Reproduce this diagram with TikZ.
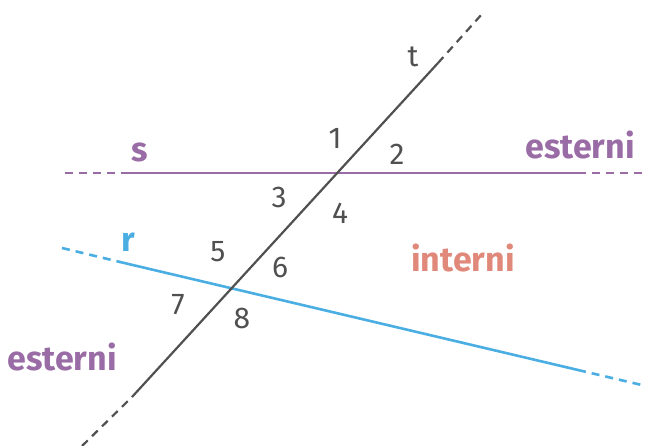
\documentclass[tikz,border=0pt]{standalone}
\usepackage{fontspec}
\setmainfont{Fira Sans}
\definecolor{spurple}{HTML}{9A6CA6}
\definecolor{rblue}{HTML}{4AAEE2}
\definecolor{tgrey}{HTML}{505050}
\definecolor{salmon}{HTML}{E0887A}
\begin{document}
\begin{tikzpicture}[x=1pt,y=-1pt,
  dsh/.style={dash pattern=on 8pt off 6pt},
  num/.style={text=tgrey,font=\fontsize{30}{30}\selectfont,inner sep=0pt},
  lab/.style={font=\bfseries\fontsize{34}{34}\selectfont,inner sep=0pt}]
\useasboundingbox (0,0) rectangle (646,446);
% line s
\coordinate (s0) at (65,173);
\coordinate (s1) at (128,173);
\coordinate (s2) at (578,173);
\coordinate (s3) at (646,173);
\draw[spurple,line width=2.6pt,dsh] (s0) -- (s1);
\draw[spurple,line width=2.6pt] (s1) -- (s2);
\draw[spurple,line width=2.6pt,dsh] (s2) -- (s3);
% line r
\coordinate (r0) at (62,248);
\coordinate (r1) at (120,262);
\coordinate (r2) at (578,370);
\coordinate (r3) at (646,386);
\draw[rblue,line width=2.6pt,dsh] (r0) -- (r1);
\draw[rblue,line width=2.6pt] (r1) -- (r2);
\draw[rblue,line width=2.6pt,dsh] (r2) -- (r3);
% line t
\coordinate (t0) at (82,446);
\coordinate (t1) at (132,397);
\coordinate (t2) at (438,63);
\coordinate (t3) at (482,14);
\draw[tgrey,line width=2.2pt,dsh] (t0) -- (t1);
\draw[tgrey,line width=2.2pt] (t1) -- (t2);
\draw[tgrey,line width=2.2pt,dsh] (t2) -- (t3);
% labels
\node[num] (lt) at (413,57) {t};
\node[lab,text=spurple] (ls) at (140,152) {s};
\node[lab,text=rblue] (lr) at (128,242) {r};
\node[lab,text=spurple] (e1) at (580,145) {esterni};
\node[lab,text=spurple] (e2) at (62,357) {esterni};
\node[lab,text=salmon] (in) at (463,258) {interni};
\node[num] (n1) at (335,138) {1};
\node[num] (n2) at (397,154) {2};
\node[num] (n3) at (279,197) {3};
\node[num] (n4) at (340,213) {4};
\node[num] (n5) at (218,252) {5};
\node[num] (n6) at (280,267) {6};
\node[num] (n7) at (178,305) {7};
\node[num] (n8) at (242,318) {8};
\end{tikzpicture}
\end{document}
